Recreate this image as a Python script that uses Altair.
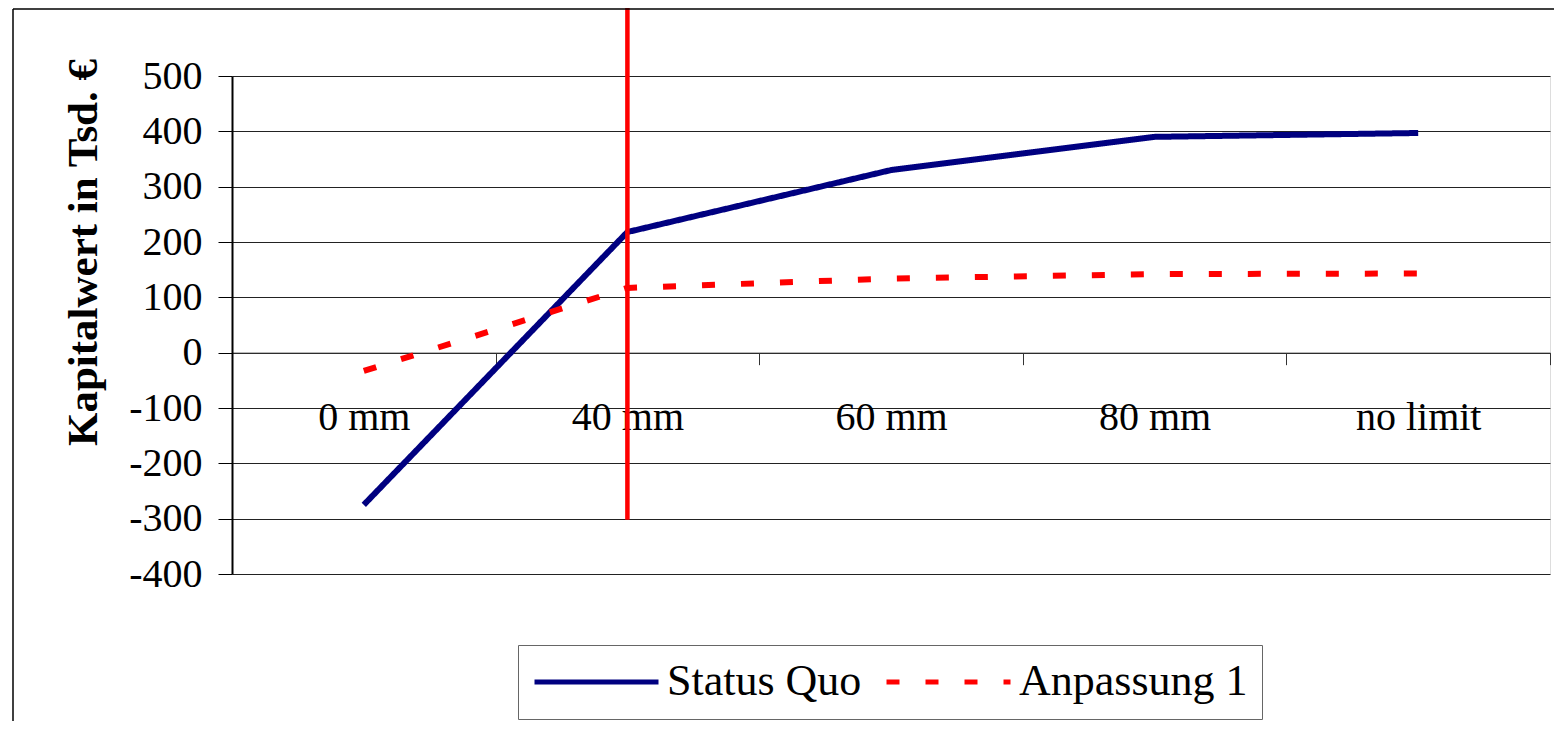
import altair as alt
import pandas as pd

categories = ["0 mm", "40 mm", "60 mm", "80 mm", "no limit"]
status_quo = [-275, 218, 330, 390, 397]
anpassung_1 = [-33, 117, 134, 142, 143]
series_names = ["Status Quo", "Anpassung 1"]
y_ticks = [-400, -300, -200, -100, 0, 100, 200, 300, 400, 500]
marker_category = "40 mm"
marker_top = 623
marker_bottom = -302

rows = []
for name, vals in zip(series_names, [status_quo, anpassung_1]):
    for c, v in zip(categories, vals):
        rows.append({"Kategorie": c, "Wert": v, "Serie": name})
df = pd.DataFrame(rows)
marker_df = pd.DataFrame({"Kategorie": [marker_category], "Wert": [marker_top], "Wert2": [marker_bottom]})

FONT = "Liberation Serif"

x_enc = alt.X(
    "Kategorie:N",
    sort=categories,
    bandPosition=0.5,
    scale=alt.Scale(type="band", domain=categories, paddingInner=0, paddingOuter=0),
    axis=alt.Axis(
        title=None,
        labelAngle=0,
        labelFont=FONT,
        labelFontSize=40,
        labelColor="black",
        labelPadding=33,
        tickSize=12,
        tickColor="#333",
        tickBand="extent",
        domain=True,
        domainColor="#333",
        domainWidth=1,
        grid=False,
        offset=-221.33,
    ),
)

y_axis = alt.Axis(
    values=y_ticks,
    labelExpr="'' + datum.value",
    title="Kapitalwert in Tsd. €",
    titleFont=FONT,
    titleFontSize=43,
    titleFontWeight="bold",
    titleColor="black",
    titleAngle=270,
    titleAlign="center",
    titleBaseline="middle",
    titleX=-149,
    titleY=176,
    labelFont=FONT,
    labelFontSize=40,
    labelColor="black",
    labelPadding=16,
    tickSize=14,
    tickColor="black",
    domainColor="black",
    domainWidth=2,
    grid=True,
    gridColor="#222",
    gridWidth=1,
)
y_scale = alt.Scale(domain=[-400, 500], nice=False, zero=False)

legend = alt.Legend(
    title=None,
    orient="none",
    legendX=286,
    legendY=569,
    direction="horizontal",
    symbolType="stroke",
    symbolSize=15376,
    symbolStrokeWidth=5,
    clipHeight=46,
    labelFont=FONT,
    labelFontSize=44,
    labelColor="black",
    labelLimit=500,
    labelOffset=6,
    columnPadding=22,
    padding=14,
    strokeColor="#666",
    fillColor="white",
)

lines = alt.Chart(df).mark_line(strokeWidth=6, strokeJoin="round", strokeCap="butt").encode(
    x=x_enc,
    y=alt.Y("Wert:Q", scale=y_scale, axis=y_axis),
    color=alt.Color(
        "Serie:N",
        scale=alt.Scale(domain=series_names, range=["#000080", "#ff0000"]),
        legend=legend,
    ),
    strokeDash=alt.StrokeDash(
        "Serie:N",
        scale=alt.Scale(domain=series_names, range=[[1, 0], [13, 26]]),
        legend=legend,
    ),
    order=alt.Order("Serie:N", sort="ascending"),
)

marker = alt.Chart(marker_df).mark_rule(color="#ff0000", strokeWidth=4.5, clip=False).encode(
    x=x_enc,
    y=alt.Y("Wert:Q", scale=y_scale, axis=y_axis),
    y2="Wert2:Q",
)

frame_df = pd.DataFrame({"a": [0]})
frame_top = alt.Chart(frame_df).mark_rule(color="black", strokeWidth=1.5).encode(
    x=alt.value(-219), x2=alt.value(1340), y=alt.value(-67)
)
frame_left = alt.Chart(frame_df).mark_rule(color="black", strokeWidth=1.5).encode(
    x=alt.value(-219), y=alt.value(-67), y2=alt.value(680)
)

chart = alt.layer(lines, marker, frame_top, frame_left).properties(
    width=1318,
    height=498,
    autosize=alt.AutoSizeParams(type="none"),
    padding={"left": 224, "top": 68, "right": 4, "bottom": 147},
).configure_view(stroke="#999", strokeWidth=3).configure(background="white")

chart.save("out.html", embed_options={"renderer": "svg", "actions": False})
